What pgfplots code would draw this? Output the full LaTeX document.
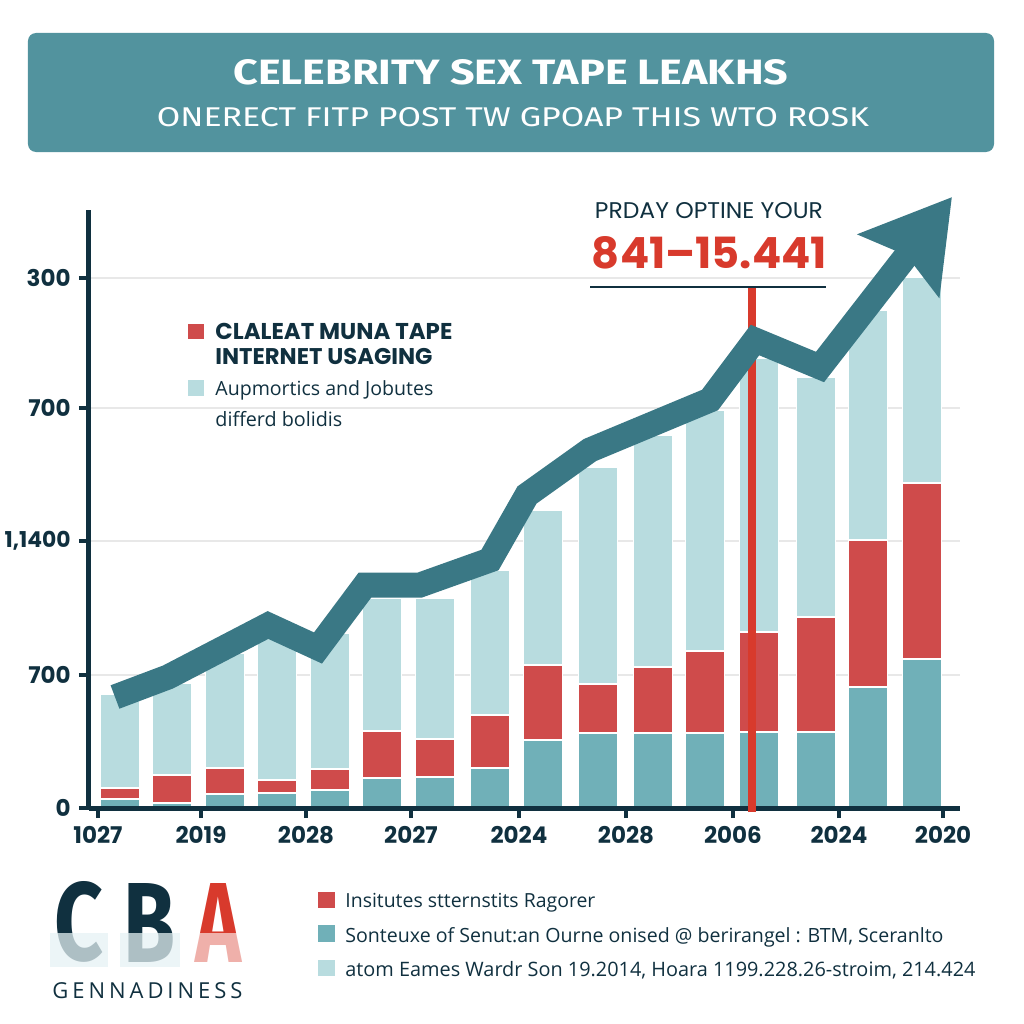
\documentclass[border=0pt]{standalone}
\usepackage{pgfplots}
\pgfplotsset{compat=1.18}
\usepackage{fontspec}
\usetikzlibrary{arrows.meta}
\setmainfont{Open Sans}
\newfontfamily\pop{Poppins}
\newfontfamily\fira{Fira Sans}
\newfontfamily\libs{Liberation Sans}
\newfontfamily\spaced[LetterSpace=18]{Open Sans}
\definecolor{navy}{HTML}{10303F}
\definecolor{banner}{HTML}{52939E}
\definecolor{lightbar}{HTML}{B8DCDF}
\definecolor{tealbar}{HTML}{70B0B8}
\definecolor{redbar}{HTML}{CF4B4B}
\definecolor{arrowc}{HTML}{3A7885}
\definecolor{redline}{HTML}{D83A2C}
\definecolor{gridc}{HTML}{E8E8E8}
\definecolor{tapec}{HTML}{C9E3E8}
\begin{document}
\begin{tikzpicture}
% ---------------- bars, grid, axes
\begin{axis}[
  x=0.5pt, y=0.5pt,
  xmin=89, xmax=960, ymin=0, ymax=598,
  axis x line=bottom, axis y line=left,
  axis line style={-, line width=2.5pt, color=navy},
  clip=false,
  xtick={98,201,306,411,519,626,733,839,943},
  xticklabels={1027,2019,2028,2027,2024,2028,2006,2024,2020},
  ytick={0,133,267,400,530},
  yticklabels={0,700,{\resizebox{33pt}{!}{1,1400}},700,300},
  tick align=outside,
  major tick length=5pt,
  tick style={line width=2pt, color=navy},
  ymajorgrids, grid style={line width=0.8pt, color=gridc},
  ticklabel style={font=\pop\bfseries\fontsize{11.5}{12}\selectfont, text=navy},
  xticklabel style={anchor=north, inner sep=0pt, yshift=-4pt},
  yticklabel style={anchor=east, inner sep=0pt, xshift=-4pt},
  /pgf/number format/assume math mode=true,
  ybar stacked, bar width=39,
]
\addplot+[fill=tealbar, draw=white, line width=0.8pt] coordinates {
 (120,9) (172,5) (225,14) (277,15) (330,18) (382,30) (435,31) (490,40)
 (543,68) (598,75) (653,75) (705,75) (759,76) (816,76) (868,121) (922,149)};
\addplot+[fill=redbar, draw=white, line width=0.8pt] coordinates {
 (120,11) (172,28) (225,26) (277,13) (330,21) (382,47) (435,38) (490,53)
 (543,75) (598,49) (653,66) (705,82) (759,100) (816,115) (868,147) (922,176)};
\addplot+[fill=lightbar, draw=white, line width=0.8pt] coordinates {
 (120,94) (172,92) (225,115) (277,142) (330,136) (382,133) (435,141) (490,145)
 (543,155) (598,217) (653,232) (705,241) (759,274) (816,240) (868,230) (922,206)};
\end{axis}
% ---------------- overlay: line, annotations, texts
\begin{axis}[
  x=0.5pt, y=0.5pt,
  xmin=89, xmax=960, ymin=0, ymax=598,
  hide axis, clip=false,
]
\path (0,-216) rectangle (1024,808);
% baseline redrawn over bars
\draw[navy, line width=2.5pt] (89,0) -- (960,0);
% red vertical line
\addplot[redline, line width=4pt] coordinates {(752,-4) (752,521)};
% trend arrow
\addplot[arrowc, line width=12.5pt, line join=miter, line cap=butt,
  -{Stealth[length=43pt, width=50pt, inset=6pt]}] coordinates {
 (115,111) (168,131) (268,183) (318,160) (365,223) (420,223) (490,248)
 (527,313) (590,358) (710,408) (755,468) (820,441) (952,611)};
% banner
\fill[banner, rounded corners=4pt] (28,775) rectangle (994,656);
\node[text=white, inner sep=0pt] at (511,735.5)
  {\resizebox{277.5pt}{12.5pt}{\fira\bfseries CELEBRITY SEX TAPE LEAKHS}};
\node[text=white, inner sep=0pt] at (513,690.5)
  {\resizebox{356pt}{9.5pt}{\fira ONERECT FITP POST TW GPOAP THIS WTO ROSK}};
% annotation
\node[text=navy, inner sep=0pt] at (709,597)
  {\resizebox{114pt}{8pt}{\pop PRDAY OPTINE YOUR}};
\node[text=redline, inner sep=0pt] at (709.5,555)
  {\resizebox{117.5pt}{16pt}{\pop\bfseries 841–15.441}};
\draw[navy, line width=1.2pt] (590,521) -- (826,521);
% inner legend
\fill[redbar] (188,484) rectangle (204,469);
\node[anchor=base west, inner sep=0pt, text=navy] at (215,469)
  {\resizebox{118.5pt}{!}{\pop\bfseries CLALEAT MUNA TAPE}};
\node[anchor=base west, inner sep=0pt, text=navy] at (215,444)
  {\resizebox{108.5pt}{!}{\pop\bfseries INTERNET USAGING}};
\fill[lightbar] (188,428) rectangle (204,412);
\node[anchor=base west, inner sep=0pt, text=navy] at (215,413)
  {\resizebox{109pt}{!}{Aupmortics and Jobutes}};
\node[anchor=base west, inner sep=0pt, text=navy] at (215,382)
  {\resizebox{63.5pt}{!}{differd bolidis}};
% bottom legend
\fill[redbar] (318,-84) rectangle (335,-100);
\fill[tealbar] (318,-117) rectangle (335,-134);
\fill[lightbar] (318,-152) rectangle (335,-168);
\node[anchor=base west, inner sep=0pt, text=navy] at (345,-99)
  {\resizebox{125pt}{!}{Insitutes stternstits Ragorer}};
\node[anchor=base west, inner sep=0pt, text=navy] at (345,-134)
  {\resizebox{299pt}{!}{Sonteuxe of Senut:an Ourne onised @ berirangel : BTM, Sceranlto}};
\node[anchor=base west, inner sep=0pt, text=navy] at (345,-168)
  {\resizebox{315pt}{!}{atom Eames Wardr Son 19.2014, Hoara 1199.228.26-stroim, 214.424}};
% logo
\node[anchor=south, inner sep=0pt, text=navy] at (79.5,-155)
  {\resizebox{24.5pt}{39.5pt}{\fira\bfseries C}};
\node[anchor=south, inner sep=0pt, text=navy] at (150,-155)
  {\resizebox{26pt}{39.5pt}{\fira\bfseries B}};
\node[anchor=south, inner sep=0pt, text=redline] at (219,-155)
  {\resizebox{23pt}{39.5pt}{\fira\bfseries A}};
\fill[white, opacity=0.6] (50,-125) rectangle (108,-159);
\fill[white, opacity=0.6] (120,-125) rectangle (180,-159);
\fill[white, opacity=0.6] (192,-125) rectangle (246,-159);
\fill[tapec, opacity=0.35] (50,-125) rectangle (108,-159);
\fill[tapec, opacity=0.35] (120,-125) rectangle (180,-159);
\node[anchor=base west, inner sep=0pt, text=navy] at (52,-190)
  {\resizebox{95pt}{!}{\spaced GENNADINESS}};
\end{axis}
\end{tikzpicture}
\end{document}
